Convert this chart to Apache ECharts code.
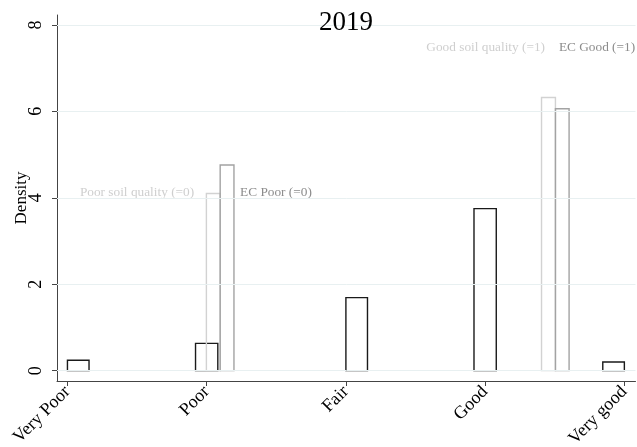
<!DOCTYPE html>
<html>
<head>
<meta charset="utf-8">
<script src="https://cdn.jsdelivr.net/npm/echarts@6/dist/echarts.min.js"></script>
<style>
  html, body { margin: 0; padding: 0; background: #fff; }
  #chart { width: 637px; height: 447px; }
</style>
</head>
<body>
<div id="chart"></div>
<script>
// Rating categories on the x axis (value positions 1..5)
const categories = ['Very Poor', 'Poor', 'Fair', 'Good', 'Very good'];
const xTickValues = [1, 2, 3, 4, 5];
const yTickValues = [0, 2, 4, 6, 8];

// Histogram of the rating (bin edges and density)
const ratingBins = [[1.0, 1.155], [1.92, 2.08], [3.0, 3.155], [3.92, 4.08], [4.845, 5.0]];
const ratingDensity = [0.24, 0.63, 1.69, 3.75, 0.20];

// Soil quality indicator (0 = poor, 1 = good)
const soilBins = [[1.998, 2.097], [4.405, 4.505]];
const soilDensity = [4.10, 6.32];

// EC indicator (0 = poor, 1 = good)
const ecBins = [[2.097, 2.196], [4.505, 4.603]];
const ecDensity = [4.76, 6.06];

// Text notes: [x, y, text]
const noteSoil = [[1.91, 4.13, 'Poor soil quality (=0)'], [4.43, 7.48, 'Good soil quality (=1)']];
const noteEc = [[2.24, 4.13, 'EC Poor (=0)'], [4.53, 7.48, 'EC Good (=1)']];

const serif = '"Liberation Serif", "Times New Roman", serif';

function toRows(bins, dens) {
  return bins.map((b, i) => [b[0], b[1], dens[i]]);
}

function barSeries(name, rows, color, width) {
  return {
    type: 'custom',
    name: name,
    data: rows,
    encode: { x: [0, 1], y: 2 },
    renderItem: function (params, api) {
      const p0 = api.coord([api.value(0), api.value(2)]);
      const p1 = api.coord([api.value(1), 0]);
      return {
        type: 'rect',
        shape: { x: p0[0], y: p0[1], width: p1[0] - p0[0], height: p1[1] - p0[1] },
        style: { fill: 'none', stroke: color, lineWidth: width }
      };
    },
    z: 3
  };
}

function noteSeries(rows, color, align) {
  return {
    type: 'custom',
    data: rows,
    encode: { x: 0, y: 1 },
    renderItem: function (params, api) {
      const p = api.coord([api.value(0), api.value(1)]);
      return {
        type: 'text',
        x: p[0], y: p[1],
        style: {
          text: rows[params.dataIndex][2],
          fill: color,
          font: '13.3px ' + serif,
          textAlign: align,
          textVerticalAlign: 'middle'
        }
      };
    },
    z: 4
  };
}

const chart = echarts.init(document.getElementById('chart'), null, { renderer: 'canvas' });

chart.setOption({
  animation: false,
  backgroundColor: '#fff',
  grid: { left: 57, right: 1.5, top: 15, bottom: 66, containLabel: false, outerBoundsMode: 'none' },
  graphic: [{
    type: 'text',
    x: 346, y: 23,
    style: { text: '2019', font: '27px ' + serif, fill: '#000', textAlign: 'center', textVerticalAlign: 'middle' },
    z: 10
  }],
  xAxis: {
    type: 'value',
    min: 0.925, max: 5.08,
    axisLine: { show: true, onZero: false, lineStyle: { color: '#444', width: 1 } },
    axisTick: { show: true, length: 5, lineStyle: { color: '#444' }, customValues: xTickValues },
    axisLabel: {
      customValues: xTickValues,
      formatter: v => categories[xTickValues.indexOf(Math.round(v))] || '',
      rotate: 45, margin: 8, color: '#000', fontFamily: serif, fontSize: 18
    },
    splitLine: { show: false }
  },
  yAxis: {
    type: 'value',
    min: -0.24, max: 8.23,
    name: 'Density', nameLocation: 'middle', nameGap: 27, nameRotate: 90,
    nameMoveOverlap: false,
    nameTextStyle: { color: '#000', fontFamily: serif, fontSize: 17 },
    axisLine: { show: true, onZero: false, lineStyle: { color: '#444', width: 1 } },
    axisTick: { show: true, length: 5, lineStyle: { color: '#444' }, customValues: yTickValues },
    axisLabel: {
      customValues: yTickValues,
      rotate: 90, margin: 12, color: '#000', fontFamily: serif, fontSize: 18
    },
    splitLine: { show: false }
  },
  series: [
    {
      type: 'line',
      data: [],
      markLine: {
        silent: true, symbol: 'none', label: { show: false },
        lineStyle: { color: '#e8f0f1', width: 1, type: 'solid' },
        data: yTickValues.map(v => ({ yAxis: v }))
      },
      z: 1
    },
    barSeries('rating', toRows(ratingBins, ratingDensity), '#1a1a1a', 1.4),
    barSeries('soil', toRows(soilBins, soilDensity), '#d2d2d2', 1.4),
    barSeries('ec', toRows(ecBins, ecDensity), '#a3a3a3', 1.4),
    noteSeries(noteSoil, '#cfcfcf', 'right'),
    noteSeries(noteEc, '#8c8c8c', 'left')
  ]
});
</script>
</body>
</html>
